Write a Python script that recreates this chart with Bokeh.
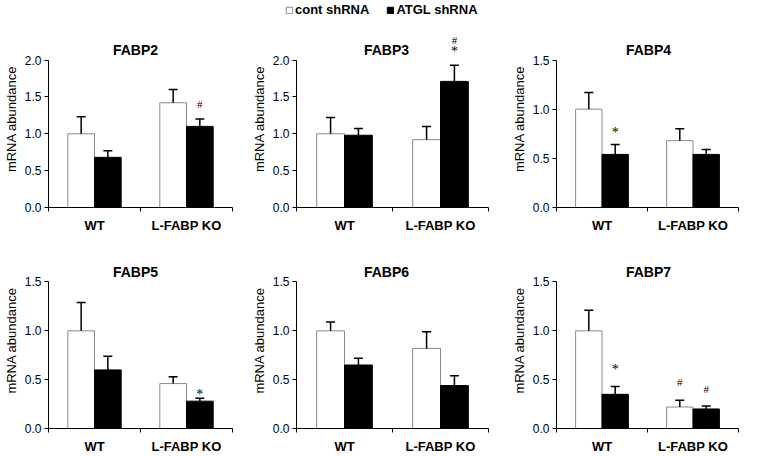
import numpy as np
from bokeh.plotting import figure
from bokeh.layouts import column, row
from bokeh.models import (Range1d, FixedTicker, PrintfTickFormatter, Whisker, TeeHead,
                          ColumnDataSource, LabelSet, Label, Legend, LegendItem)
from bokeh.embed import file_html
from bokeh.resources import INLINE

FONT = "Liberation Sans"

groups = ["WT", "L-FABP KO"]
series = ["cont shRNA", "ATGL shRNA"]
titles = ["FABP2", "FABP3", "FABP4", "FABP5", "FABP6", "FABP7"]
y_ticks_2 = [0.0, 0.5, 1.0, 1.5, 2.0]
y_ticks_15 = [0.0, 0.5, 1.0, 1.5]
panel_ticks = [y_ticks_2, y_ticks_2, y_ticks_15, y_ticks_15, y_ticks_15, y_ticks_15]

# mean values (WT, L-FABP KO) and upward SE
cont_mean = [[1.00, 1.42], [1.00, 0.92], [1.00, 0.68], [1.00, 0.46], [1.00, 0.82], [1.00, 0.22]]
cont_err  = [[0.23, 0.18], [0.22, 0.18], [0.17, 0.12], [0.29, 0.07], [0.09, 0.17], [0.21, 0.07]]
atgl_mean = [[0.68, 1.10], [0.98, 1.71], [0.54, 0.54], [0.60, 0.28], [0.65, 0.44], [0.35, 0.20]]
atgl_err  = [[0.09, 0.10], [0.09, 0.22], [0.10, 0.05], [0.14, 0.03], [0.07, 0.10], [0.08, 0.03]]

# significance marks: panel, group index, series index, symbol, y value
mark_panel  = [0, 1, 1, 2, 3, 5, 5, 5]
mark_group  = [1, 1, 1, 0, 1, 0, 1, 1]
mark_series = [1, 1, 1, 1, 1, 1, 0, 1]
mark_text   = ["#", "*", "#", "*", "*", "*", "#", "#"]
mark_y      = [1.41, 2.15, 2.27, 0.79, 0.38, 0.63, 0.48, 0.40]

BAR_W = 0.29
OFF = 0.145
HEAD = 30  # px of frame kept above the axis top for titles and marks
title_dx = [-5, -6, 1]


def make_panel(i, w, h, bl, br, bt, bb):
    ymax = panel_ticks[i][-1]
    axis_h = h - bt - bb
    frame_h = axis_h + HEAD
    y_end = ymax * frame_h / axis_h
    p = figure(width=w, height=h, x_range=Range1d(0, len(groups)), y_range=Range1d(0, y_end),
               output_backend="svg", toolbar_location=None,
               min_border_left=bl, min_border_right=br, min_border_top=bt - HEAD,
               min_border_bottom=bb)
    p.outline_line_color = None
    p.xgrid.visible = False
    p.ygrid.visible = False

    p.add_layout(Label(x=len(groups) / 2, y=ymax, y_offset=10, x_offset=title_dx[i % 3],
                       text=titles[i], text_align="center", text_baseline="middle",
                       text_font=FONT, text_font_size="14px", text_font_style="bold",
                       text_color="black"))

    centers = np.arange(len(groups)) + 0.5
    xs = [centers - OFF, centers + OFF]
    means = [cont_mean[i], atgl_mean[i]]
    errs = [cont_err[i], atgl_err[i]]
    fills = ["white", "black"]
    lines = ["#8a8a8a", "black"]
    for s in range(2):
        p.vbar(x=xs[s], top=means[s], width=BAR_W, bottom=0,
               fill_color=fills[s], line_color=lines[s], line_width=1)
    for s in range(2):
        src = ColumnDataSource(dict(x=xs[s], lower=means[s],
                                    upper=np.array(means[s]) + np.array(errs[s])))
        p.add_layout(Whisker(source=src, base="x", lower="lower", upper="upper",
                             dimension="height", line_width=1.5, line_color="black",
                             upper_head=TeeHead(size=9, line_width=1.5, line_color="black"),
                             lower_head=None, level="overlay"))

    for sym, size, yoff in (("*", "14px", -3), ("#", "11px", 0)):
        mx, my, mt = [], [], []
        for k in range(len(mark_panel)):
            if mark_panel[k] == i and mark_text[k] == sym:
                mx.append(centers[mark_group[k]] + (OFF if mark_series[k] == 1 else -OFF))
                my.append(mark_y[k])
                mt.append(sym)
        if mx:
            p.add_layout(LabelSet(source=ColumnDataSource(dict(x=mx, y=my, t=mt)),
                                  x="x", y="y", text="t", text_align="center",
                                  text_baseline="middle", y_offset=yoff,
                                  text_font=FONT, text_font_size=size, text_color="black"))

    xa = p.xaxis[0]
    xa.ticker = FixedTicker(ticks=[float(c) for c in centers],
                            minor_ticks=[float(v) for v in range(len(groups) + 1)])
    xa.major_label_overrides = {float(c): g for c, g in zip(centers, groups)}
    xa.major_tick_out = 0
    xa.major_tick_in = 0
    xa.minor_tick_out = 4
    xa.minor_tick_in = 0
    xa.minor_tick_line_color = "black"
    xa.major_label_standoff = 6
    xa.major_label_text_font = FONT
    xa.major_label_text_font_size = "13px"
    xa.major_label_text_font_style = "bold"
    xa.major_label_text_color = "black"
    xa.axis_line_color = "black"

    ya = p.yaxis[0]
    ya.bounds = (0, ymax)
    ya.ticker = FixedTicker(ticks=panel_ticks[i], minor_ticks=[])
    ya.formatter = PrintfTickFormatter(format="%.1f")
    ya.axis_label = "mRNA abundance"
    ya.axis_label_text_font = FONT
    ya.axis_label_text_font_size = "13px"
    ya.axis_label_text_font_style = "normal"
    ya.axis_label_text_color = "black"
    ya.axis_label_standoff = 3
    ya.major_label_standoff = 3
    ya.major_label_text_font = FONT
    ya.major_label_text_font_size = "12px"
    ya.major_label_text_color = "black"
    ya.major_tick_out = 4
    ya.major_tick_in = 0
    ya.major_tick_line_color = "black"
    ya.minor_tick_out = 0
    ya.minor_tick_in = 0
    ya.axis_line_color = "black"
    return p


# legend strip
lg = figure(width=741, height=20, x_range=Range1d(0, 1), y_range=Range1d(0, 1),
            output_backend="svg", toolbar_location=None,
            min_border_left=0, min_border_right=0, min_border_top=0, min_border_bottom=0)
lg.axis.visible = False
lg.grid.visible = False
lg.outline_line_color = None
# dummy renderers placed outside the visible range, used only for legend swatches
r1 = lg.quad(left=[-3], right=[-2], top=[-2], bottom=[-3], fill_color="white", line_color="#8a8a8a")
r2 = lg.quad(left=[-3], right=[-2], top=[-2], bottom=[-3], fill_color="black", line_color="black")
legend = Legend(items=[LegendItem(label=series[0], renderers=[r1]),
                       LegendItem(label=series[1], renderers=[r2])],
                orientation="horizontal", location=(285, 3), padding=0, margin=0,
                spacing=17, glyph_width=8, glyph_height=8, label_standoff=2,
                label_height=14, label_text_font=FONT, label_text_font_size="13px",
                label_text_font_style="bold", label_text_color="black",
                border_line_color=None, background_fill_alpha=0)
lg.add_layout(legend, "center")

W = 247
col_borders = [(44, 15), (49, 6), (62, 3)]
row1 = [make_panel(c, W, 215, col_borders[c][0], col_borders[c][1], 40, 25) for c in range(3)]
row2 = [make_panel(3 + c, W, 221, col_borders[c][0], col_borders[c][1], 47, 25) for c in range(3)]

layout = column(lg, row(*row1), row(*row2))
open("out.html", "w").write(file_html(layout, INLINE))
